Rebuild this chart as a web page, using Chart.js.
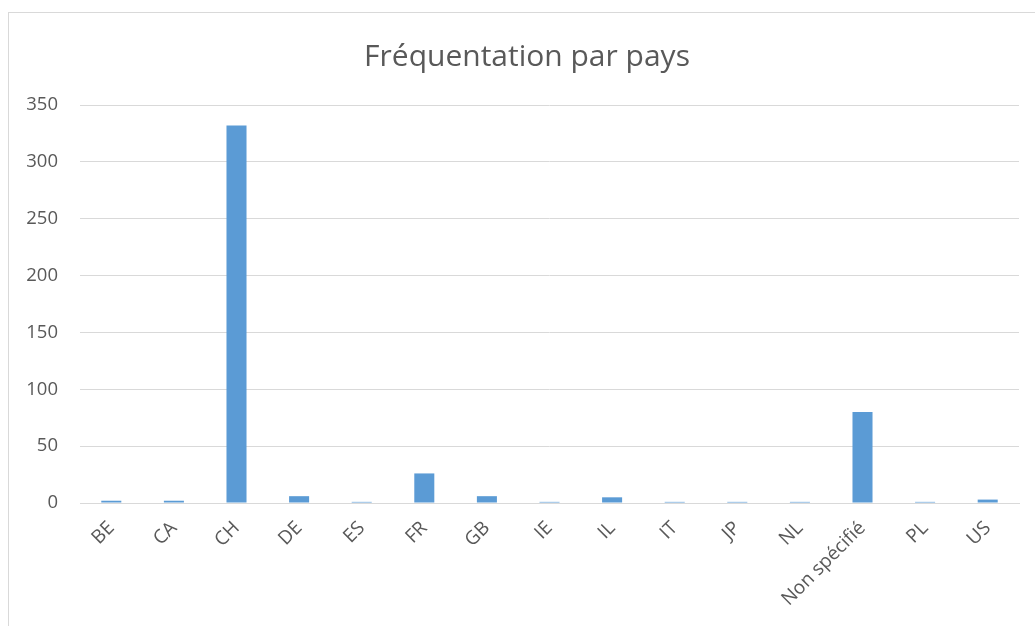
<!DOCTYPE html>
<html lang="fr">
<head>
<meta charset="utf-8">
<title>Fréquentation par pays</title>
<script src="https://cdn.jsdelivr.net/npm/chart.js@4"></script>
<style>
  html, body { margin: 0; padding: 0; background: #fff; overflow: hidden; }
  #wrap { position: relative; width: 1035px; height: 626px; }
  #frame {
    position: absolute; left: 8px; top: 12px; width: 1100px; height: 700px;
    border-left: 1.5px solid #d9d9d9; border-top: 1.5px solid #d9d9d9;
    pointer-events: none;
  }
</style>
</head>
<body>
<div id="wrap">
  <canvas id="chart" width="1035" height="626"></canvas>
  <div id="frame"></div>
</div>
<script>
const countries = ['BE', 'CA', 'CH', 'DE', 'ES', 'FR', 'GB', 'IE', 'IL', 'IT', 'JP', 'NL', 'Non spécifié', 'PL', 'US'];
const visits = [2, 2, 332, 6, 1, 26, 6, 1, 5, 1, 1, 1, 80, 1, 3];
const yTicks = [0, 50, 100, 150, 200, 250, 300, 350];

const textColor = '#595959';
const gridColor = '#d9d9d9';
const font = 'Open Sans';

// the original title sits a bit right of the canvas centre
const shiftTitle = {
  id: 'shiftTitle',
  afterLayout: (c) => {
    if (c.titleBlock) c.titleBlock.left += 15;
  },
};

const ctx = document.getElementById('chart').getContext('2d');
// eslint-disable-next-line no-undef
const chart = new Chart(ctx, {
  type: 'bar',
  data: {
    labels: countries,
    datasets: [{
      label: 'Fréquentation',
      data: visits,
      backgroundColor: '#5b9bd5',
      borderWidth: 0,
      categoryPercentage: 1,
      barPercentage: 0.32,
    }],
  },
  plugins: [shiftTitle],
  options: {
    responsive: false,
    animation: false,
    layout: { padding: { left: 20, right: 16, top: 0, bottom: 0 } },
    plugins: {
      legend: { display: false },
      tooltip: { enabled: false },
      title: {
        display: true,
        text: 'Fréquentation par pays',
        color: textColor,
        font: { family: font, size: 30, weight: 'normal' },
        padding: { top: 39, bottom: 30 },
      },
    },
    scales: {
      x: {
        grid: { display: false },
        border: { color: gridColor, width: 1 },
        ticks: {
          color: textColor,
          font: { family: font, size: 19 },
          minRotation: 45,
          maxRotation: 45,
          autoSkip: false,
          padding: 6,
        },
        afterFit: (scale) => { scale.height = 123; },
      },
      y: {
        min: 0,
        max: 350,
        afterBuildTicks: (scale) => { scale.ticks = yTicks.map((v) => ({ value: v })); },
        grid: { color: gridColor, lineWidth: 1, drawTicks: false },
        border: { display: false },
        ticks: {
          color: textColor,
          font: { family: font, size: 18.5 },
          padding: 22,
        },
        afterFit: (scale) => { scale.width = 60; },
      },
    },
  },
});
</script>
</body>
</html>
